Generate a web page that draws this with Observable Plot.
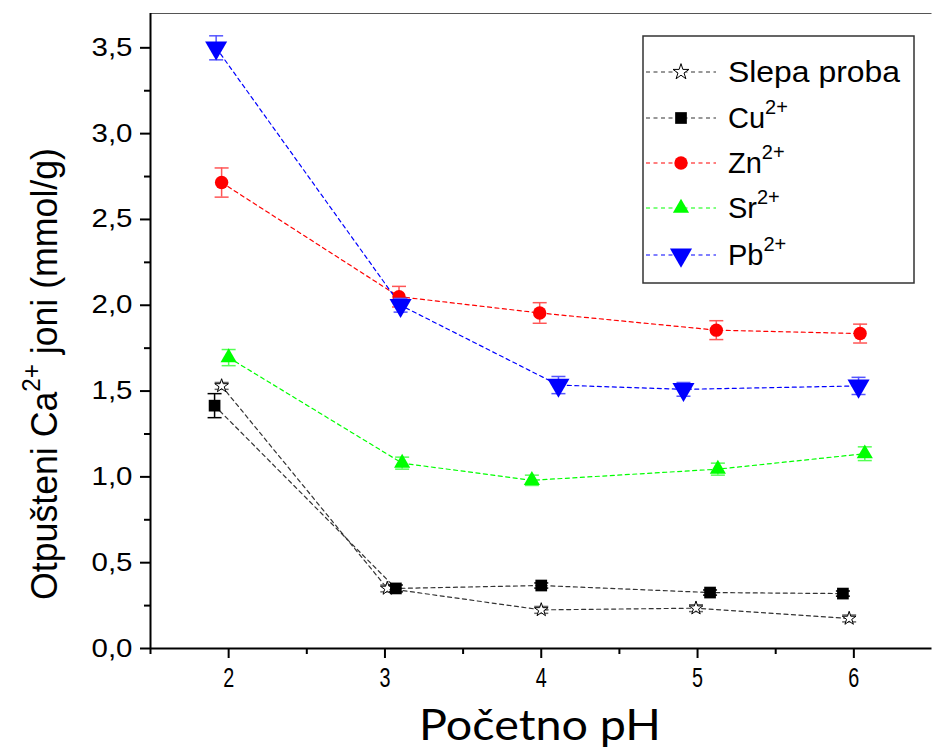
<!DOCTYPE html>
<html><head><meta charset="utf-8">
<script src="https://cdn.jsdelivr.net/npm/d3@7"></script>
<script src="https://cdn.jsdelivr.net/npm/@observablehq/plot@0.6"></script>
<style>
body{margin:0;background:#fff}
svg{font-family:"Liberation Sans",Arial,sans-serif;overflow:hidden}
</style>
</head><body><div id="chart"></div>
<script>
// ---- data ----
const seriesNames = ["Slepa proba", "Cu", "Zn", "Sr", "Pb"];
const seriesSup = ["", "2+", "2+", "2+", "2+"];
const seriesColors = ["#000000", "#000000", "#ff0000", "#00ff00", "#0000ff"];

const phSlepa = [1.955, 3.015, 4.0, 4.99, 5.97];
const valSlepa = [1.53, 0.35, 0.225, 0.235, 0.175];
const errSlepa = [0.02, 0.02, 0.02, 0.02, 0.02];

const phCu = [1.91, 3.07, 4.0, 5.08, 5.93];
const valCu = [1.415, 0.35, 0.367, 0.326, 0.32];
const errCu = [0.07, 0.02, 0.015, 0.015, 0.015];

const phZn = [1.955, 3.09, 3.99, 5.12, 6.04];
const valZn = [2.715, 2.05, 1.955, 1.855, 1.835];
const errZn = [0.085, 0.06, 0.06, 0.055, 0.055];

const phSr = [2.0, 3.11, 3.94, 5.13, 6.07];
const valSr = [1.695, 1.08, 0.98, 1.045, 1.135];
const errSr = [0.047, 0.035, 0.03, 0.035, 0.04];

const phPb = [1.92, 3.10, 4.11, 4.91, 6.03];
const valPb = [3.50, 2.0, 1.535, 1.51, 1.53];
const errPb = [0.07, 0.04, 0.05, 0.04, 0.05];

const yTicks = [0, 0.5, 1.0, 1.5, 2.0, 2.5, 3.0, 3.5];
const yMinor = [0.25, 0.75, 1.25, 1.75, 2.25, 2.75, 3.25];
const xTicks = [2, 3, 4, 5, 6];
const xMinor = [1.5, 2.5, 3.5, 4.5, 5.5];

// ---- build tables ----
const phs = [phSlepa, phCu, phZn, phSr, phPb];
const vals = [valSlepa, valCu, valZn, valSr, valPb];
const errs = [errSlepa, errCu, errZn, errSr, errPb];
const series = seriesNames.map((name, k) =>
  phs[k].map((x, i) => ({name, x, y: vals[k][i], e: errs[k][i]})));

const capSymbol = {draw(ctx) { ctx.moveTo(-7, 0); ctx.lineTo(7, 0); }};
const symStyle = [
  {symbol: "star", r: 4.3, fill: "#fff", stroke: "#000", strokeWidth: 1},
  {symbol: "square", r: 6.6, fill: "#000", stroke: "none"},
  {symbol: "circle", r: 6.7, fill: "#ff0000", stroke: "none"},
  {symbol: "triangle", r: 6.0, fill: "#00ff00", stroke: "none"},
  {symbol: "triangle", r: 8.2, fill: "#0000ff", stroke: "none", rotate: 180}
];
const errColors = ["#666", "#000", "#ff5555", "#55ff55", "#5555ff"];

const marks = [];
series.forEach((data, k) => {
  marks.push(Plot.line(data, {x: "x", y: "y", stroke: k < 2 ? "#333" : seriesColors[k],
    strokeWidth: 1.2, strokeDasharray: "4,3.5"}));
});
series.forEach((data, k) => {
  marks.push(Plot.ruleX(data, {x: "x", y1: d => d.y - d.e, y2: d => d.y + d.e,
    stroke: errColors[k], strokeWidth: 1.5}));
  marks.push(Plot.dot(data, {x: "x", y: d => d.y - d.e, symbol: capSymbol, r: 3, stroke: errColors[k], strokeWidth: 1.5}));
  marks.push(Plot.dot(data, {x: "x", y: d => d.y + d.e, symbol: capSymbol, r: 3, stroke: errColors[k], strokeWidth: 1.5}));
  marks.push(Plot.dot(data, {x: "x", y: "y", ...symStyle[k]}));
});

const fmt = d => d.toFixed(1).replace(".", ",");

const chart = Plot.plot({
  width: 933, height: 752,
  marginLeft: 150, marginRight: 1.5, marginTop: 13, marginBottom: 104,
  x: {domain: [1.5, 6.5]},
  y: {domain: [0, 3.7]},
  marks: [
    Plot.ruleY([3.7], {stroke: "#555", strokeWidth: 1}),
    ...marks,
    Plot.axisY(yTicks, {className: "yax", tickSize: 10, tickPadding: 8, tickFormat: fmt, fontSize: 25,
      strokeWidth: 2, stroke: "#000", fill: "#000", label: null}),
    Plot.axisY(yMinor, {tickSize: 6, tickFormat: () => "", strokeWidth: 2, label: null}),
    Plot.axisX(xTicks, {className: "xax", tickSize: 10, tickPadding: 9, tickFormat: d => String(d), fontSize: 28,
      strokeWidth: 2, fill: "#000", label: null}),
    Plot.axisX(xMinor, {tickSize: 6, tickFormat: () => "", strokeWidth: 2, label: null}),
    Plot.ruleX([1.5], {strokeWidth: 2, stroke: "#000"}),
    Plot.ruleY([0], {strokeWidth: 2, stroke: "#000"})
  ]
});
document.getElementById("chart").appendChild(chart);

const svg = d3.select(chart);
// stretch / condense tick labels like the reference
svg.selectAll(".yax text").attr("textLength", 41).attr("lengthAdjust", "spacingAndGlyphs");
svg.selectAll(".xax text").attr("textLength", 11).attr("lengthAdjust", "spacingAndGlyphs");

// y title
const yt = svg.append("text")
  .attr("transform", "translate(57,374) rotate(-90)")
  .attr("text-anchor", "middle")
  .attr("font-size", 37)
  .attr("fill", "#000")
  .attr("font-family", "'Liberation Sans', Arial, sans-serif");
yt.append("tspan").text("Otpušteni Ca");
yt.append("tspan").attr("font-size", 25).attr("dy", -17).text("2+");
yt.append("tspan").attr("dy", 17).text(" joni (mmol/g)");
yt.attr("textLength", 452).attr("lengthAdjust", "spacingAndGlyphs");

// x title
svg.append("text")
  .attr("x", 540).attr("y", 740)
  .attr("text-anchor", "middle")
  .attr("font-size", 42)
  .attr("fill", "#000")
  .attr("font-family", "Lato, sans-serif")
  .attr("textLength", 242).attr("lengthAdjust", "spacingAndGlyphs")
  .text("Početno pH");

// legend
const lg = svg.append("g").attr("text-anchor", "start");
lg.append("rect").attr("x", 643).attr("y", 36).attr("width", 271).attr("height", 247)
  .attr("fill", "#fff").attr("stroke", "#333").attr("stroke-width", 1.5);
const rowsY = [72, 118, 163, 208, 255];
const d3sym = [d3.symbolStar, d3.symbolSquare, d3.symbolCircle, d3.symbolTriangle, d3.symbolTriangle];
seriesNames.forEach((name, k) => {
  const y = rowsY[k];
  lg.append("line").attr("x1", 646).attr("x2", 716).attr("y1", y).attr("y2", y)
    .attr("stroke", k < 2 ? "#333" : seriesColors[k]).attr("stroke-width", 1.2)
    .attr("stroke-dasharray", "4,3.5");
  const s = symStyle[k];
  const rr = k === 0 ? 5.0 : s.r;
  lg.append("path")
    .attr("d", d3.symbol(d3sym[k], rr * rr * Math.PI)())
    .attr("transform", `translate(681,${y}) rotate(${s.rotate || 0})`)
    .attr("fill", k === 0 ? "#fff" : s.fill)
    .attr("stroke", k === 0 ? "#000" : "none").attr("stroke-width", 1);
  const t = lg.append("text").attr("x", 728).attr("y", y + 10)
    .attr("text-anchor", "start")
    .attr("font-size", 29).attr("fill", "#000");
  t.append("tspan").text(name);
  if (seriesSup[k]) t.append("tspan").attr("font-size", 20).attr("dy", -14).text(seriesSup[k]);
  if (k === 0) t.attr("textLength", 172).attr("lengthAdjust", "spacingAndGlyphs");
});
</script>
</body></html>
